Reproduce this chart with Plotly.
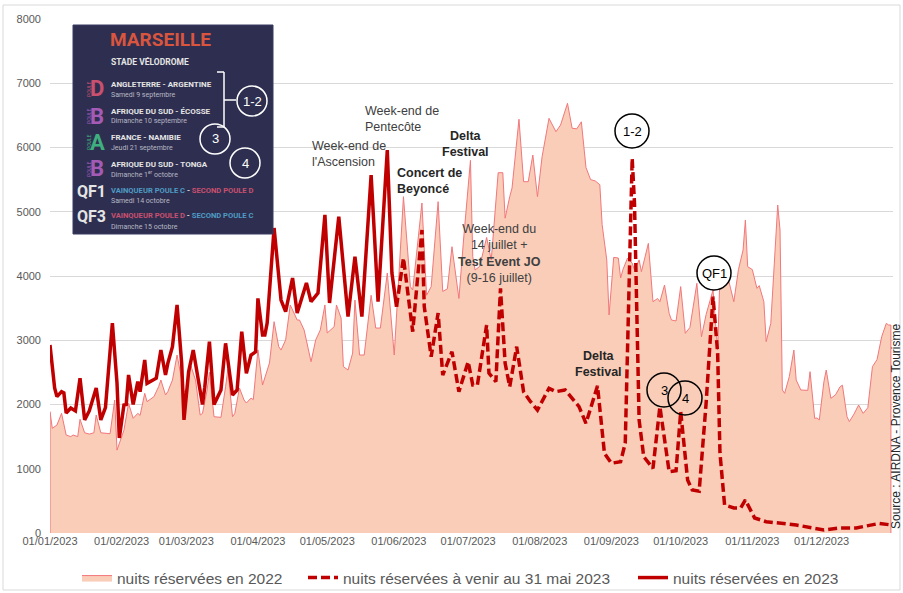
import plotly.graph_objects as go
import pandas as pd

# ---------------- DATA (day offset from 01/01/2023, nights) ----------------
nuits_2022 = [
    (0, 1888), (1, 1630), (3, 1680), (5, 1862), (7, 1525), (9, 1500), (10, 1525), (12, 1500), (13, 1770), (15, 1560),
    (17, 1540), (19, 1560), (20, 1836), (22, 1560), (25, 1545), (26, 1545), (28, 2070), (29, 1290), (32, 1600), (34, 2018),
    (36, 1785), (38, 1862), (39, 1830), (41, 2174), (42, 2044), (45, 2122), (47, 2277), (48, 2381), (50, 2148), (51, 2200),
    (53, 2381), (55, 2770), (58, 2200), (59, 2226), (61, 2600), (63, 2380), (65, 1836), (66, 1862), (68, 2226), (69, 2500),
    (71, 1810), (74, 1800), (76, 2277), (77, 2550), (79, 1810), (80, 1862), (82, 2257), (84, 2070), (85, 2023), (87, 2100),
    (88, 2075), (90, 2850), (92, 2303), (95, 2646), (97, 3289), (99, 2900), (100, 2848), (102, 3004), (104, 3549), (107, 3315),
    (108, 3315), (110, 3160), (113, 2666), (115, 3004), (117, 3160), (119, 3549), (120, 3113), (123, 3211), (124, 3549), (126, 3346),
    (127, 2589), (129, 2537), (131, 2800), (132, 3626), (134, 2770), (136, 2770), (139, 3700), (141, 3190), (143, 3190), (144, 3470),
    (146, 4047), (149, 2770), (153, 5235), (156, 3835), (157, 3782), (161, 5136), (163, 3700), (165, 3835), (168, 5157), (170, 3760),
    (172, 3800), (174, 4456), (177, 3650), (179, 4560), (182, 5800), (183, 4300), (184, 4093), (186, 4150), (189, 4600), (191, 4249),
    (194, 5608), (196, 5608), (197, 4900), (199, 5235), (200, 5370), (203, 6440), (205, 5468), (207, 5468), (209, 5883), (211, 5235),
    (213, 5857), (216, 6454), (219, 6246), (221, 6350), (224, 6688), (226, 6300), (228, 6290), (230, 6400), (232, 5690), (234, 5500),
    (236, 5480), (238, 5420), (239, 4800), (241, 4250), (242, 3393), (244, 4290), (246, 4280), (247, 3969), (248, 4100), (250, 4280),
    (252, 4200), (253, 4093), (255, 4250), (256, 4067), (259, 4508), (261, 3600), (263, 3650), (264, 3600), (266, 3860), (268, 3420),
    (269, 3315), (271, 3300), (273, 3835), (275, 3108), (277, 3200), (280, 3886), (282, 3055), (284, 3400), (287, 3782), (289, 2848),
    (290, 4015), (293, 4042), (296, 3600), (298, 4100), (300, 4405), (301, 4872), (302, 4145), (304, 4100), (306, 3808), (307, 3850),
    (309, 3600), (310, 2978), (312, 3263), (315, 5105), (316, 4716), (317, 2226), (318, 2174), (320, 2433), (322, 2848), (323, 2381),
    (325, 2226), (328, 2220), (329, 2511), (331, 1785), (332, 1790), (333, 1759), (335, 2355), (336, 2537), (338, 2096), (340, 2150),
    (342, 2277), (343, 2300), (345, 1810), (346, 1733), (348, 1850), (350, 1992), (352, 1862), (354, 1950), (356, 2589), (358, 2700),
    (360, 3055), (362, 3263), (363, 3237), (364, 3237),
]

nuits_a_venir = [
    (150, 3522), (153, 4280), (157, 3133), (161, 4716), (162, 3522), (165, 2744), (168, 3424), (170, 2459), (174, 2822), (177, 2199),
    (181, 2666), (183, 2303), (185, 2303), (189, 3237), (190, 2490), (193, 2355), (195, 3808), (197, 2646), (199, 2277), (202, 2900),
    (205, 2199), (208, 2044), (211, 1914), (216, 2252), (219, 2200), (223, 2226), (229, 1966), (232, 1707), (237, 2290), (240, 1240),
    (243, 1085), (247, 1110), (249, 1400), (252, 5832), (253, 5136), (255, 1759), (257, 1188), (261, 1006), (264, 1966), (268, 955),
    (271, 970), (273, 1888), (276, 825), (278, 670), (281, 650), (284, 2018), (287, 3678), (289, 2800), (290, 1245), (292, 436),
    (296, 390), (299, 390), (301, 514), (305, 233), (310, 176), (316, 156), (323, 125), (335, 47), (342, 78), (349, 78),
    (359, 150), (364, 125),
]

nuits_2023 = [
    (0, 2926), (2, 2257), (3, 2122), (5, 2200), (6, 2180), (7, 1868), (9, 1946), (11, 1900), (13, 2410), (15, 1760),
    (17, 1900), (20, 2257), (22, 1760), (24, 1950), (27, 3268), (29, 2335), (30, 1480), (32, 1992), (33, 2000), (34, 2460),
    (36, 2000), (38, 2355), (39, 2200), (41, 2693), (42, 2330), (45, 2380), (46, 2410), (48, 2848), (50, 2460), (51, 2640),
    (53, 2900), (55, 3549), (57, 2640), (58, 1760), (60, 2510), (62, 2848), (64, 2380), (66, 2000), (67, 2270), (69, 2978),
    (71, 2000), (74, 2226), (76, 2952), (79, 2148), (81, 2226), (83, 3133), (85, 2485), (87, 2770), (89, 2820), (90, 3652),
    (92, 3081), (93, 3081), (94, 3268), (97, 4747), (100, 3626), (102, 3445), (105, 3969), (107, 3424), (111, 3891), (113, 3600),
    (116, 3735), (119, 4950), (121, 3580), (125, 4923), (129, 3367), (132, 4300), (135, 3367), (139, 5572), (140, 4923), (142, 3600),
    (146, 5961), (148, 4047), (150, 3522),
]

month_ticks = ["2023-01-01", "2023-02-01", "2023-03-01", "2023-04-01", "2023-05-01", "2023-06-01",
               "2023-07-01", "2023-08-01", "2023-09-01", "2023-10-01", "2023-11-01", "2023-12-01"]
y_ticks = [0, 1000, 2000, 3000, 4000, 5000, 6000, 7000, 8000]

series_names = ["nuits réservées en 2022", "nuits réservées à venir au 31 mai 2023", "nuits réservées en 2023"]

# ---------------- helpers ----------------
BASE = pd.Timestamp("2023-01-01")


def dates(pairs):
    return [BASE + pd.Timedelta(days=d) for d, _ in pairs]


def vals(pairs):
    return [v for _, v in pairs]


W, H = 903, 593
ML, MR, MT, MB = 50, 10, 19, 60
PW, PH = W - ML - MR, H - MT - MB


def PX(x):
    return (x - ML) / PW


def PY(y):
    return (H - MB - y) / PH


fig = go.Figure()

# area 2022 (closed polygon like Excel)
ax = dates(nuits_2022)
ay = vals(nuits_2022)
fig.add_trace(go.Scatter(
    x=[ax[0]] + ax + [ax[-1]], y=[0] + ay + [0],
    mode="lines", fill="tozeroy", fillcolor="#F9CDB8",
    line=dict(color="#F2777B", width=1), name=series_names[0], legend="legend"))

fig.add_trace(go.Scatter(
    x=dates(nuits_a_venir), y=vals(nuits_a_venir), mode="lines",
    line=dict(color="#C00000", width=3.5, dash="9px,4px"), name=series_names[1], legend="legend2"))

fig.add_trace(go.Scatter(
    x=dates(nuits_2023), y=vals(nuits_2023), mode="lines",
    line=dict(color="#C00000", width=3.5), name=series_names[2], legend="legend3"))

FONT = "Liberation Sans, Arial, sans-serif"
shapes = []
annots = []

# outer chart border
shapes.append(dict(type="rect", xref="paper", yref="paper", x0=PX(3), x1=PX(900), y0=PY(590), y1=PY(5),
                   line=dict(color="#D9D9D9", width=1), fillcolor="rgba(0,0,0,0)", layer="below"))

# ---------- chart annotations ----------
def txt(x, y, text, size=12.5, color="#404040", xanchor="left", yanchor="top", align="left", angle=0, family=FONT):
    annots.append(dict(x=PX(x), y=PY(y), xref="paper", yref="paper", text=text, showarrow=False,
                       xanchor=xanchor, yanchor=yanchor, align=align, textangle=angle,
                       font=dict(size=size, color=color, family=family)))


txt(310, 137, "Week-end de<br>l'Ascension")
txt(363, 102, "Week-end de<br>Pentecôte")
txt(395, 164, "<b>Concert de<br>Beyoncé</b>", color="#262626")
txt(465, 127, "<b>Delta<br>Festival</b>", color="#262626", xanchor="center", align="center")
txt(500, 220, "Week-end du<br>14 juillet +<br><b>Test Event JO</b><br>(9-16 juillet)", xanchor="center", align="center")
txt(598, 347, "<b>Delta<br>Festival</b>", color="#262626", xanchor="center", align="center")
txt(896, 426, "Source : AIRDNA - Provence Tourisme", size=12, color="#262626", xanchor="center",
    yanchor="middle", angle=-90)


def circle(cx, cy, r, label, color="black", fill="rgba(0,0,0,0)", size=13):
    shapes.append(dict(type="circle", xref="paper", yref="paper",
                       x0=PX(cx - r), x1=PX(cx + r), y0=PY(cy + r), y1=PY(cy - r),
                       line=dict(color=color, width=1.5), fillcolor=fill))
    annots.append(dict(x=PX(cx), y=PY(cy), xref="paper", yref="paper", text=label, showarrow=False,
                       xanchor="center", yanchor="middle", font=dict(size=size, color=color, family=FONT)))


circle(632, 131, 17, "1-2", fill="white")
circle(714, 273, 17, "QF1", fill="white")
circle(664, 390, 17, "3")
circle(685, 398, 17, "4")

# ---------- Marseille inset ----------
shapes.append(dict(type="rect", xref="paper", yref="paper", x0=PX(73), x1=PX(273), y0=PY(234), y1=PY(25),
                   line=dict(color="#3A3B63", width=1), fillcolor="#2E2F50"))

PF = "Roboto, Liberation Sans, sans-serif"
LIGHT = "#E4E4E4"
SUB = "#B8B8C4"
PINK = "#C9506F"
PURPLE = "#A35BB5"
GREEN = "#3FAF7F"
BLUE = "#4E9BC4"


def ptxt(x, y, text, size, color, xanchor="left", angle=0):
    annots.append(dict(x=PX(x), y=PY(y), xref="paper", yref="paper", text=text, showarrow=False,
                       xanchor=xanchor, yanchor="middle", textangle=angle,
                       font=dict(size=size, color=color, family=PF)))


ptxt(108, 40, "<b>MARSEILLE</b>", 19, "#D9553E")
ptxt(109, 61, "<b>STADE VÉLODROME</b>", 8.5, LIGHT)

rows = [
    ("D", PINK, 89, "<b>ANGLETERRE - ARGENTINE</b>", 84, "Samedi 9 septembre", 94.5),
    ("B", PURPLE, 116, "<b>AFRIQUE DU SUD - ÉCOSSE</b>", 111, "Dimanche 10 septembre", 121),
    ("A", GREEN, 142, "<b>FRANCE - NAMIBIE</b>", 137, "Jeudi 21 septembre", 148),
    ("B", PURPLE, 169, "<b>AFRIQUE DU SUD - TONGA</b>", 164, "Dimanche 1<sup>er</sup> octobre", 174),
]
for letter, col, ly, title, ty, sub, sy in rows:
    ptxt(89, ly, "POULE", 5, col, xanchor="center", angle=-90)
    ptxt(97, ly, "<b>" + letter + "</b>", 22, col, xanchor="center")
    ptxt(109, ty, title, 8, LIGHT)
    ptxt(109, sy, sub, 7, SUB)

ptxt(91, 191, "<b>QF1</b>", 16, LIGHT, xanchor="center")
ptxt(109, 190, f"<b><span style='color:{BLUE}'>VAINQUEUR POULE C</span> - <span style='color:{PINK}'>SECOND POULE D</span></b>", 7.6, LIGHT)
ptxt(109, 201, "Samedi 14 octobre", 7, SUB)
ptxt(91, 217, "<b>QF3</b>", 16, LIGHT, xanchor="center")
ptxt(109, 216, f"<b><span style='color:{PINK}'>VAINQUEUR POULE D</span> - <span style='color:{BLUE}'>SECOND POULE C</span></b>", 7.6, LIGHT)
ptxt(109, 227, "Dimanche 15 octobre", 7, SUB)

# bracket
for (x0, y0, x1, y1) in [(217, 72, 224, 72), (224, 72, 224, 127), (224, 100, 236, 100), (217, 127, 224, 127)]:
    shapes.append(dict(type="line", xref="paper", yref="paper", x0=PX(x0), y0=PY(y0), x1=PX(x1), y1=PY(y1),
                       line=dict(color="white", width=1.5)))

circle(252, 101, 15, "1-2", color="white", size=13)
circle(215, 139, 15, "3", color="white", size=13)
circle(245, 163, 15, "4", color="white", size=13)


def legend_at(x_text):
    return dict(orientation="h", x=PX(x_text - 40), xanchor="left", y=PY(561), yanchor="top",
                font=dict(size=15.5, color="#595959", family=FONT), bgcolor="rgba(0,0,0,0)",
                itemwidth=30)


fig.update_layout(
    width=W, height=H,
    margin=dict(l=ML, r=MR, t=MT, b=MB, autoexpand=False),
    paper_bgcolor="white", plot_bgcolor="white",
    font=dict(family=FONT, color="#595959"),
    showlegend=True,
    legend=legend_at(117),
    legend2=legend_at(343),
    legend3=legend_at(673),
    xaxis=dict(type="date", range=[BASE, BASE + pd.Timedelta(days=364.9)],
               tickvals=month_ticks, tickformat="%d/%m/%Y", automargin=False,
               showgrid=False, zeroline=False, showline=False, ticks="",
               tickfont=dict(size=11, color="#595959")),
    yaxis=dict(range=[0, 8000], tickvals=y_ticks, showgrid=True, gridcolor="#D9D9D9", gridwidth=1,
               zeroline=False, showline=False, ticks="", ticklabelstandoff=8, automargin=False,
               tickfont=dict(size=11, color="#595959")),
    shapes=shapes,
    annotations=annots,
)

fig.write_html("out.html", config={"displayModeBar": False},
               post_script="document.body.style.margin='0';document.body.style.overflow='hidden';")
